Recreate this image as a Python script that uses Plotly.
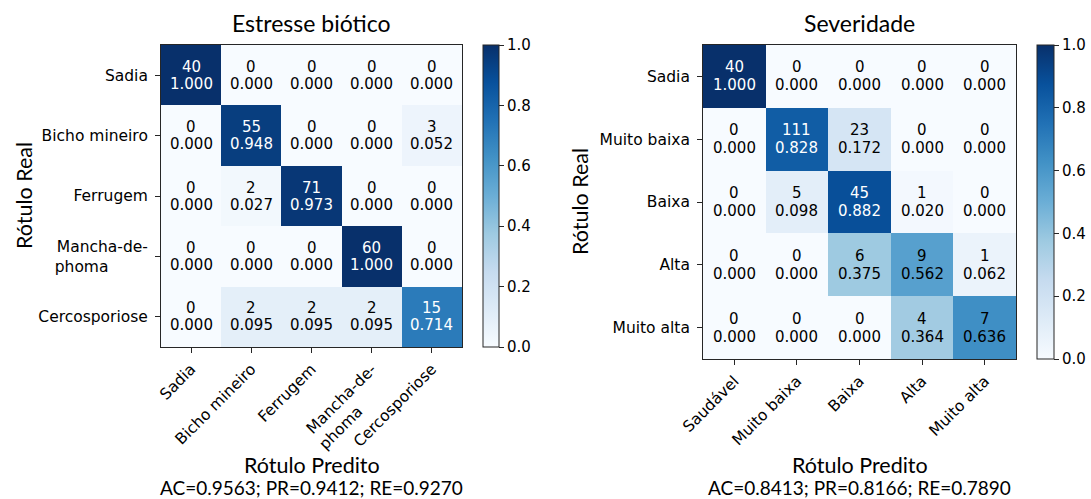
import plotly.graph_objects as go

# Confusion matrix: biotic stress
bio_rows = ["Sadia", "Bicho mineiro", "Ferrugem", "Mancha-de-phoma", "Cercosporiose"]
bio_cols = ["Sadia", "Bicho mineiro", "Ferrugem", "Mancha-de-phoma", "Cercosporiose"]
bio_counts = [
    [40, 0, 0, 0, 0],
    [0, 55, 0, 0, 3],
    [0, 2, 71, 0, 0],
    [0, 0, 0, 60, 0],
    [0, 2, 2, 2, 15],
]
bio_rates = [
    [1.000, 0.000, 0.000, 0.000, 0.000],
    [0.000, 0.948, 0.000, 0.000, 0.052],
    [0.000, 0.027, 0.973, 0.000, 0.000],
    [0.000, 0.000, 0.000, 1.000, 0.000],
    [0.000, 0.095, 0.095, 0.095, 0.714],
]
bio_metrics = "AC=0.9563; PR=0.9412; RE=0.9270"

# Confusion matrix: severity
sev_rows = ["Sadia", "Muito baixa", "Baixa", "Alta", "Muito alta"]
sev_cols = ["Saudável", "Muito baixa", "Baixa", "Alta", "Muito alta"]
sev_counts = [
    [40, 0, 0, 0, 0],
    [0, 111, 23, 0, 0],
    [0, 5, 45, 1, 0],
    [0, 0, 6, 9, 1],
    [0, 0, 0, 4, 7],
]
sev_rates = [
    [1.000, 0.000, 0.000, 0.000, 0.000],
    [0.000, 0.828, 0.172, 0.000, 0.000],
    [0.000, 0.098, 0.882, 0.020, 0.000],
    [0.000, 0.000, 0.375, 0.562, 0.062],
    [0.000, 0.000, 0.000, 0.364, 0.636],
]
sev_metrics = "AC=0.8413; PR=0.8166; RE=0.7890"

cbar_ticks = [0.0, 0.2, 0.4, 0.6, 0.8, 1.0]

W, H = 1091, 499
BLUES = [
    [0.000, "#f7fbff"], [0.125, "#deebf7"], [0.250, "#c6dbef"],
    [0.375, "#9ecae1"], [0.500, "#6baed6"], [0.625, "#4292c6"],
    [0.750, "#2171b5"], [0.875, "#08519c"], [1.000, "#08306b"],
]
MPL_FONT = "DejaVu Sans"
TITLE_FONT = "Lato"
FRAME = "#262626"


def px_x(x):
    return x / W


def px_y(y):
    return 1 - y / H


def label_text(name):
    # two-line label for the long class name, left-aligned by padding
    if name == "Mancha-de-phoma":
        return "Mancha-de-<br>phoma" + "&nbsp;" * 8
    return name


fig = go.Figure()

panels = [
    dict(rows=bio_rows, cols=bio_cols, counts=bio_counts, rates=bio_rates,
         title="Estresse biótico", metrics=bio_metrics,
         box=(161, 462, 45, 347), cbar=(483, 16), ylab_x=24,
         ax="x", ay="y", cax="coloraxis", shift=8.5),
    dict(rows=sev_rows, cols=sev_cols, counts=sev_counts, rates=sev_rates,
         title="Severidade", metrics=sev_metrics,
         box=(703, 1016, 45, 359), cbar=(1037, 17), ylab_x=580,
         ax="x2", ay="y2", cax="coloraxis2", shift=9),
]

layout = dict(
    width=W, height=H,
    margin=dict(l=0, r=0, t=0, b=0, autoexpand=False),
    paper_bgcolor="white", plot_bgcolor="white",
    showlegend=False,
    font=dict(family=MPL_FONT, size=15, color="black"),
    annotations=[],
)

for p in panels:
    n = len(p["rows"])
    idx = list(range(n))
    x0, x1, y0, y1 = p["box"]
    fig.add_trace(go.Heatmap(
        z=p["rates"], x=idx, y=idx, coloraxis=p["cax"],
        xaxis=p["ax"], yaxis=p["ay"], hoverinfo="skip",
    ))

    axis_common = dict(
        showline=True, mirror=True, linecolor=FRAME, linewidth=1,
        ticks="outside", ticklen=5, tickwidth=1, tickcolor=FRAME,
        showgrid=False, zeroline=False, fixedrange=True, automargin=False,
        tickfont=dict(family=MPL_FONT, size=15.5, color="black"),
        tickmode="array", tickvals=idx,
    )
    xkey = "xaxis" if p["ax"] == "x" else "xaxis2"
    ykey = "yaxis" if p["ay"] == "y" else "yaxis2"
    layout[xkey] = dict(axis_common, domain=[px_x(x0), px_x(x1)],
                        range=[-0.5, n - 0.5], anchor=p["ay"],
                        ticktext=[label_text(c) for c in p["cols"]],
                        tickangle=-45, ticklabelstandoff=1)
    layout[ykey] = dict(axis_common, domain=[px_y(y1), px_y(y0)],
                        range=[n - 0.5, -0.5], anchor=p["ax"],
                        ticktext=[label_text(r) for r in p["rows"]],
                        ticklabelstandoff=4)

    cx, thick = p["cbar"]
    layout[p["cax"]] = dict(
        cmin=0, cmax=1, colorscale=BLUES,
        colorbar=dict(
            x=px_x(cx), xanchor="left", xref="paper",
            y=px_y((y0 + y1) / 2), yanchor="middle", yref="paper",
            len=(y1 - y0) / H, lenmode="fraction",
            thickness=thick, thicknessmode="pixels",
            xpad=0, ypad=0,
            outlinewidth=1, outlinecolor=FRAME,
            ticks="outside", ticklen=5, tickcolor=FRAME,
            tickmode="array", tickvals=cbar_ticks, tickformat=".1f",
            tickfont=dict(family=MPL_FONT, size=15, color="black"),
        ),
    )

    # cell annotations: count above, row rate below
    for i in idx:
        for j in idx:
            rate = p["rates"][i][j]
            color = "white" if rate > 0.667 else "black"
            for txt, dy in ((str(p["counts"][i][j]), p["shift"]),
                            (f"{rate:.3f}", -p["shift"])):
                layout["annotations"].append(dict(
                    x=j, y=i, xref=p["ax"], yref=p["ay"], text=txt,
                    showarrow=False, yshift=dy,
                    font=dict(family=MPL_FONT, size=15, color=color),
                ))

    xc = (x0 + x1) / 2
    yc = (y0 + y1) / 2
    layout["annotations"] += [
        dict(x=px_x(xc), y=px_y(23), xref="paper", yref="paper",
             text=p["title"], showarrow=False, xanchor="center", yanchor="middle",
             font=dict(family=TITLE_FONT, size=23, color="black")),
        dict(x=px_x(xc), y=px_y(465), xref="paper", yref="paper",
             text="Rótulo Predito", showarrow=False, xanchor="center", yanchor="middle",
             font=dict(family=TITLE_FONT, size=21.5, color="black")),
        dict(x=px_x(xc), y=px_y(487), xref="paper", yref="paper",
             text=p["metrics"], showarrow=False, xanchor="center", yanchor="middle",
             font=dict(family=TITLE_FONT, size=19, color="black")),
        dict(x=px_x(p["ylab_x"]), y=px_y(yc), xref="paper", yref="paper",
             text="Rótulo Real", showarrow=False, textangle=-90,
             xanchor="center", yanchor="middle",
             font=dict(family=TITLE_FONT, size=21.5, color="black")),
    ]

fig.update_layout(**layout)
fig.write_html("out.html")
